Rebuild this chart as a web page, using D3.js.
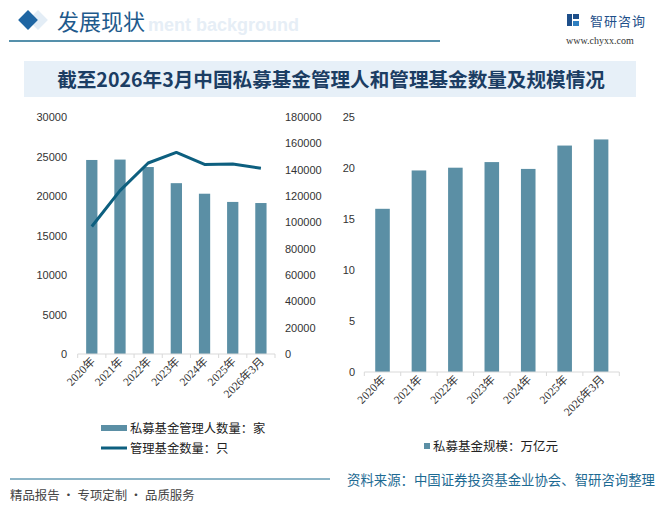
<!DOCTYPE html>
<html>
<head>
<meta charset="utf-8">
<script src="https://cdn.jsdelivr.net/npm/d3@7"></script>
<style>
  html, body { margin: 0; padding: 0; background: #fff; }
  svg text { font-family: "Noto Sans CJK SC", "Liberation Sans", sans-serif; }
</style>
</head>
<body>
<div id="chart"></div>
<script>
const categories = ['2020年', '2021年', '2022年', '2023年', '2024年', '2025年', '2026年3月'];
const managers = [24561, 24610, 23667, 21625, 20289, 19250, 19110];   // 家
const funds = [96852, 124117, 145048, 153079, 144000, 144300, 141000]; // 只
const fundScale = [16.0, 19.76, 20.03, 20.58, 19.91, 22.2, 22.8];       // 万亿元
const leftTicks = [0, 5000, 10000, 15000, 20000, 25000, 30000];
const rightTicks = [0, 20000, 40000, 60000, 80000, 100000, 120000, 140000, 160000, 180000];
const scaleTicks = [0, 5, 10, 15, 20, 25];

const W = 659, H = 511;
const barColor = '#5b8fa5';
const lineColor = '#0d5f7f';

const svg = d3.select('#chart').append('svg')
  .attr('width', W).attr('height', H);

// header
svg.append('rect').attr('x', 31).attr('y', 13).attr('width', 14).attr('height', 14)
  .attr('transform', 'rotate(45 38 20)').attr('fill', '#e3edf6');
svg.append('rect').attr('x', 21).attr('y', 13).attr('width', 14).attr('height', 14)
  .attr('transform', 'rotate(45 28 20)').attr('fill', '#1f66a3');
svg.append('text').attr('x', 148).attr('y', 31).text('ment background')
  .attr('font-size', 18).attr('font-weight', 'bold').attr('fill', '#e6eef6')
  .style('font-family', '"Liberation Sans", sans-serif');
svg.append('text').attr('x', 57).attr('y', 30).text('发展现状')
  .attr('font-size', 22).attr('fill', '#1e5a8c');
svg.append('line').attr('x1', 9).attr('x2', 440).attr('y1', 41).attr('y2', 41)
  .attr('stroke', '#1c6b8f').attr('stroke-width', 1.5);

// logo
const logo = svg.append('g').attr('transform', 'translate(567,14)');
logo.append('rect').attr('x', 0).attr('y', 0).attr('width', 5).attr('height', 12).attr('fill', '#1e4f8a');
logo.append('rect').attr('x', 6).attr('y', 0).attr('width', 6).attr('height', 5).attr('fill', '#1e4f8a');
logo.append('rect').attr('x', 6).attr('y', 7).attr('width', 6).attr('height', 5).attr('fill', '#2f7fc1');
svg.append('text').attr('x', 590).attr('y', 26).text('智研咨询')
  .attr('font-size', 13).attr('fill', '#1e4f8a').attr('letter-spacing', 1);
svg.append('text').attr('x', 566).attr('y', 44).text('www.chyxx.com')
  .attr('font-size', 10).attr('fill', '#333')
  .style('font-family', '"Liberation Serif", serif');

// title box
svg.append('rect').attr('x', 24).attr('y', 61).attr('width', 612).attr('height', 36).attr('fill', '#e7f0f8');
svg.append('text').attr('x', 331).attr('y', 87).attr('text-anchor', 'middle')
  .text('截至2026年3月中国私募基金管理人和管理基金数量及规模情况')
  .attr('font-size', 19.6).attr('font-weight', 'bold').attr('fill', '#1b3d63');

function xLabels(g, x, y0) {
  g.selectAll('.xl').data(categories).enter().append('text')
    .attr('class', 'xl')
    .attr('transform', d => `translate(${x(d) + x.bandwidth() / 2 + 4},${y0}) rotate(-45)`)
    .attr('text-anchor', 'end')
    .attr('font-size', 11.5)
    .attr('fill', '#333')
    .style('font-family', '"Liberation Serif", "Noto Sans CJK SC", serif')
    .text(d => d);
}

function baseAxis(g, x, y0) {
  g.append('line').attr('x1', x.range()[0]).attr('x2', x.range()[1])
    .attr('y1', y0).attr('y2', y0).attr('stroke', '#d9d9d9');
  const edges = categories.map(d => x(d)).concat([x.range()[1]]);
  g.selectAll('.tk').data(edges).enter().append('line')
    .attr('x1', d => d).attr('x2', d => d).attr('y1', y0).attr('y2', y0 + 4)
    .attr('stroke', '#d9d9d9');
}

// left chart
const left = svg.append('g');
const x1 = d3.scaleBand().domain(categories).range([77.7, 275]);
const yL = d3.scaleLinear().domain([0, 30000]).range([354, 117]);
const yR = d3.scaleLinear().domain([0, 180000]).range([354, 117]);
const bw1 = x1.bandwidth() * 0.4;

left.selectAll('.bar').data(managers).enter().append('rect')
  .attr('x', (d, i) => x1(categories[i]) + (x1.bandwidth() - bw1) / 2)
  .attr('y', d => yL(d))
  .attr('width', bw1)
  .attr('height', d => yL(0) - yL(d))
  .attr('fill', barColor);

baseAxis(left, x1, 354);

left.append('path')
  .datum(funds)
  .attr('fill', 'none')
  .attr('stroke', lineColor)
  .attr('stroke-width', 3)
  .attr('stroke-linejoin', 'round')
  .attr('d', d3.line().x((d, i) => x1(categories[i]) + x1.bandwidth() / 2).y(d => yR(d)));

left.selectAll('.ytl').data(leftTicks).enter().append('text')
  .attr('x', 67).attr('y', d => yL(d) + 4).attr('text-anchor', 'end')
  .attr('font-size', 11).attr('fill', '#333')
  .style('font-family', '"Liberation Sans", sans-serif')
  .text(d => d);
left.selectAll('.ytr').data(rightTicks).enter().append('text')
  .attr('x', 285).attr('y', d => yR(d) + 4).attr('text-anchor', 'start')
  .attr('font-size', 11).attr('fill', '#333')
  .style('font-family', '"Liberation Sans", sans-serif')
  .text(d => d);
xLabels(left, x1, 362);

// left legend
left.append('rect').attr('x', 101).attr('y', 425).attr('width', 26).attr('height', 6).attr('fill', barColor);
left.append('text').attr('x', 130).attr('y', 433).text('私募基金管理人数量：家')
  .attr('font-size', 12.3).attr('fill', '#222');
left.append('line').attr('x1', 101).attr('x2', 127).attr('y1', 448).attr('y2', 448)
  .attr('stroke', lineColor).attr('stroke-width', 3);
left.append('text').attr('x', 130).attr('y', 453).text('管理基金数量：只')
  .attr('font-size', 12.3).attr('fill', '#222');

// right chart
const right = svg.append('g');
const x2 = d3.scaleBand().domain(categories).range([364.3, 619.3]);
const y2 = d3.scaleLinear().domain([0, 25]).range([372, 117]);
const bw2 = x2.bandwidth() * 0.4;

right.selectAll('.bar').data(fundScale).enter().append('rect')
  .attr('x', (d, i) => x2(categories[i]) + (x2.bandwidth() - bw2) / 2)
  .attr('y', d => y2(d))
  .attr('width', bw2)
  .attr('height', d => y2(0) - y2(d))
  .attr('fill', barColor);

baseAxis(right, x2, 372);

right.selectAll('.yt').data(scaleTicks).enter().append('text')
  .attr('x', 355).attr('y', d => y2(d) + 4).attr('text-anchor', 'end')
  .attr('font-size', 11).attr('fill', '#333')
  .style('font-family', '"Liberation Sans", sans-serif')
  .text(d => d);
xLabels(right, x2, 380);

right.append('rect').attr('x', 424).attr('y', 443).attr('width', 6).attr('height', 6).attr('fill', barColor);
right.append('text').attr('x', 433).attr('y', 451).text('私募基金规模：万亿元')
  .attr('font-size', 12.5).attr('fill', '#222');

// footer
svg.append('line').attr('x1', 10).attr('x2', 330).attr('y1', 479).attr('y2', 479)
  .attr('stroke', '#1b6a8e').attr('stroke-width', 1);
svg.append('text').attr('x', 347).attr('y', 485).text('资料来源：中国证券投资基金业协会、智研咨询整理')
  .attr('font-size', 13.4).attr('fill', '#1d6a93');
svg.append('text').attr('x', 10).attr('y', 500).text('精品报告 · 专项定制 · 品质服务')
  .attr('font-size', 12.4).attr('fill', '#444');
</script>
</body>
</html>
